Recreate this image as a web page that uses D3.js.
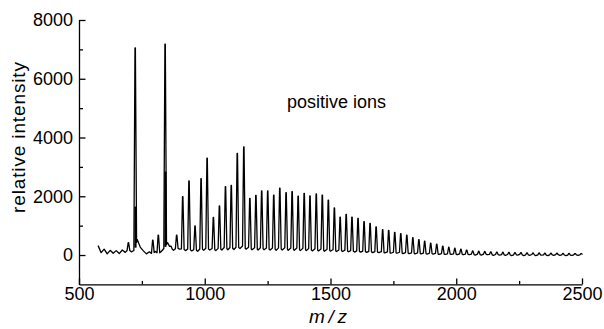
<!DOCTYPE html>
<html>
<head>
<meta charset="utf-8">
<script src="https://cdn.jsdelivr.net/npm/d3@7"></script>
<style>
  body { margin: 0; background: #fff; }
  svg { display: block; font-family: "Liberation Sans", Arial, Helvetica, sans-serif; }
  .axis path, .axis line { stroke: #000; stroke-width: 1.3; }
  .axis text { font-size: 18px; fill: #000; }
  .trace { fill: none; stroke: #000; stroke-width: 1.3; stroke-linejoin: round; }
</style>
</head>
<body>
<div id="chart"></div>
<script>
// peak series (m/z, top intensity)
const peakMz = [696, 723, 793, 815, 842, 865, 888, 912, 937, 961, 985, 1009, 1034, 1058, 1082, 1105,
  1129, 1155, 1179, 1203, 1226, 1250, 1274, 1298, 1323, 1347, 1371, 1395, 1418, 1443, 1467, 1491,
  1515, 1538, 1562, 1585, 1609, 1633, 1657, 1681, 1707, 1731, 1755, 1779, 1803, 1827, 1851, 1874,
  1898, 1922, 1946, 1970, 1994, 2018, 2041, 2065, 2089, 2113, 2137, 2161, 2185, 2209, 2233, 2257,
  2281, 2305, 2329, 2352, 2376, 2400, 2424, 2448, 2472, 2496]
const peakTop = [420, 7050, 510, 680, 7180, 300, 680, 1990, 2520, 990, 2600, 3300, 1280, 1670, 2330, 2370,
  3460, 3680, 1930, 2030, 2180, 2180, 2040, 2280, 2120, 2160, 2000, 2100, 2010, 2080, 2040, 1870,
  1600, 1290, 1384, 1290, 1250, 1140, 1080, 960, 860, 840, 770, 730, 675, 590, 525, 470,
  400, 370, 305, 265, 230, 200, 170, 140, 130, 120, 110, 100, 95, 90, 80, 80,
  75, 70, 70, 65, 60, 60, 55, 55, 50, 50]

// broad lower part of the two strong peaks
const shoulderMz = [723, 842]
const shoulderVal = [1650, 2840]

// baseline between peaks, sampled every 12 m/z from 576
const baseStart = 576
const baseStep = 12
const baseVal = [
  320, 80, 200, 40, 160, 60, 150, 50, 170, 90, 200, 110, 160, 520, 260, 140,
  40, 110, 30, 120, 40, 130, 250, 420, 240, 160, 250, 200, 220, 150, 230, 140,
  200, 130, 240, 160, 260, 170, 240, 150, 250, 170, 280, 180, 290, 190, 300, 220,
  320, 200, 280, 180, 260, 170, 270, 180, 260, 170, 260, 160, 270, 170, 260, 160,
  250, 160, 250, 150, 240, 150, 240, 140, 230, 140, 220, 130, 210, 130, 200, 120,
  190, 120, 180, 110, 170, 100, 160, 100, 150, 90, 140, 80, 130, 80, 120, 70,
  110, 60, 100, 60, 100, 50, 90, 50, 80, 40, 80, 40, 70, 30, 70, 30,
  60, 20, 60, 20, 50, 20, 50, 10, 50, 10, 40, 10, 40, 0, 40, 0,
  40, 10, 30, -10, 30, 0, 20, -10, 30, -20, 20, 0, 30, -20, 20, -10,
  30, -20, 20, 0, 10, -20, 20, -10, 30, -10, 20, -20, 10, -10, 20, -10, 10]
const baseMz = baseVal.map((v, i) => baseStart + i * baseStep)

const xTicks = [500, 1000, 1500, 2000, 2500]
const xMinor = [750, 1250, 1750, 2250]
const yTicks = [0, 2000, 4000, 6000, 8000]
const yMinor = [1000, 3000, 5000, 7000]

const W = 604, H = 329

const x = d3.scaleLinear().domain([500, 2500]).range([79, 582])
const y = d3.scaleLinear().domain([-1000, 8000]).range([284.4, 20])
const baseAt = d3.scaleLinear().domain(baseMz).range(baseVal)
const fmt = d3.format("d")

const svg = d3.select("#chart").append("svg")
  .attr("width", W)
  .attr("height", H)

svg.append("rect").attr("width", W).attr("height", H).attr("fill", "#fff")

// build one trace: baseline samples plus a narrow spike at every peak
const pts = []
baseMz.forEach((m, i) => {
  if (!peakMz.some(p => Math.abs(p - m) < 8)) pts.push([x(m), y(baseVal[i])])
})
peakMz.forEach((m, i) => {
  const px = x(m)
  const fl = baseAt(x.invert(px - 1.2))
  const fr = baseAt(x.invert(px + 1.5))
  pts.push([px - 1.2, y(fl)], [px - 0.1, y(peakTop[i])], [px + 0.3, y(peakTop[i])], [px + 1.5, y(fr)])
})
pts.sort((a, b) => a[0] - b[0])

svg.append("path")
  .attr("class", "trace")
  .attr("d", d3.line()(pts))

// thicker lower body of the strong peaks
svg.selectAll(".shoulder")
  .data(shoulderMz)
  .join("line")
  .attr("class", "shoulder")
  .attr("x1", d => x(d) + 0.4)
  .attr("x2", d => x(d) + 0.4)
  .attr("y1", d => y(baseAt(d)))
  .attr("y2", (d, i) => y(shoulderVal[i]))
  .attr("stroke", "#000")
  .attr("stroke-width", 2.2)

// axes, ticks pointing inward
svg.append("g")
  .attr("class", "axis")
  .attr("transform", "translate(0," + y(-1000) + ")")
  .call(d3.axisBottom(x).tickValues(xTicks).tickFormat(fmt).tickSizeInner(-6).tickSizeOuter(0).tickPadding(3))
svg.append("g")
  .attr("class", "axis")
  .attr("transform", "translate(0," + y(-1000) + ")")
  .call(d3.axisBottom(x).tickValues(xMinor).tickSizeInner(-3.5).tickSizeOuter(0).tickFormat(""))
  .select(".domain").remove()

svg.append("g")
  .attr("class", "axis")
  .attr("transform", "translate(" + x(500) + ",0)")
  .call(d3.axisLeft(y).tickValues(yTicks).tickFormat(fmt).tickSizeInner(-6.5).tickSizeOuter(0).tickPadding(6))
svg.append("g")
  .attr("class", "axis")
  .attr("transform", "translate(" + x(500) + ",0)")
  .call(d3.axisLeft(y).tickValues(yMinor).tickSizeInner(-4).tickSizeOuter(0).tickFormat(""))
  .select(".domain").remove()

// labels
svg.append("text")
  .attr("transform", "translate(25,137.5) rotate(-90)")
  .attr("text-anchor", "middle")
  .attr("font-size", 19)
  .attr("textLength", 151)
  .attr("lengthAdjust", "spacing")
  .text("relative intensity")

svg.append("text")
  .attr("x", 328)
  .attr("y", 323)
  .attr("text-anchor", "middle")
  .attr("font-size", 19)
  .attr("font-style", "italic")
  .attr("textLength", 38)
  .attr("lengthAdjust", "spacing")
  .text("m/z")

svg.append("text")
  .attr("x", 287)
  .attr("y", 108)
  .attr("font-size", 18)
  .text("positive ions")
</script>
</body>
</html>
